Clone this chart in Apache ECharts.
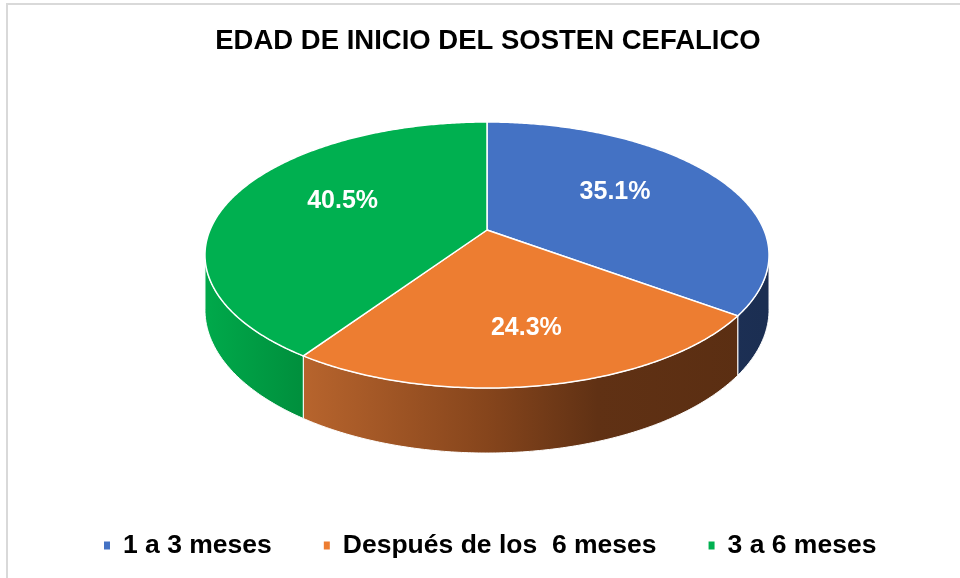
<!DOCTYPE html>
<html>
<head>
<meta charset="utf-8">
<script src="https://cdn.jsdelivr.net/npm/echarts@6/dist/echarts.min.js"></script>
<style>
  html, body { margin: 0; padding: 0; background: #fff; }
  #main { width: 960px; height: 578px; }
</style>
</head>
<body>
<div id="main"></div>
<script>
var categories = ['1 a 3 meses', 'Después de los  6 meses', '3 a 6 meses'];
var percents = [35.1, 24.3, 40.5];
var labelTexts = ['35.1%', '24.3%', '40.5%'];

var topColors = ['#4472C4', '#ED7D31', '#00B050'];
var FONT = '"Liberation Sans", Arial, sans-serif';

// perspective ellipse settings (3d pie look)
var cx = 487, cy = 230;   // pie centre on screen
var w = 277;              // half width at centre depth
var s = 128.3;            // vertical half size
var k = 0.188;            // perspective factor
var h = 52.8;             // thickness

var total = percents.reduce(function (a, b) { return a + b; }, 0);
var starts = [];
var acc = 0;
for (var i = 0; i < percents.length; i++) {
  starts.push(acc / total);
  acc += percents[i];
}

function proj(t, r, down) {
  var d = 1 + k * r * Math.cos(t);
  return [
    cx + r * w * Math.sin(t) / d,
    cy - r * s * Math.cos(t) / d + down * h / d
  ];
}

var x1 = cx - w, x2 = cx + w;
var wallFills = [
  new echarts.graphic.LinearGradient(x1, 0, x2, 0, [
    { offset: 0, color: '#2A4474' }, { offset: 1, color: '#1B2E52' }
  ], true),
  new echarts.graphic.LinearGradient(x1, 0, x2, 0, [
    { offset: 0.15, color: '#BA662E' },
    { offset: 0.5, color: '#86451C' },
    { offset: 0.7, color: '#603114' },
    { offset: 1, color: '#5A2E12' }
  ], true),
  new echarts.graphic.LinearGradient(x1, 0, x2, 0, [
    { offset: 0, color: '#00A84A' },
    { offset: 0.2, color: '#008A3A' },
    { offset: 1, color: '#006A2C' }
  ], true)
];

var visA = Math.acos(-k), visB = 2 * Math.PI - visA;

function renderSlice(params, api) {
  var i = params.seriesIndex;
  var share = api.value(0) / total;
  var t0 = starts[i] * 2 * Math.PI;
  var t1 = t0 + share * 2 * Math.PI;
  var children = [];

  var topPts = [proj(0, 0, 0)];
  var n = Math.max(2, Math.ceil((t1 - t0) / 0.01));
  for (var j = 0; j <= n; j++) {
    topPts.push(proj(t0 + (t1 - t0) * j / n, 1, 0));
  }

  var a = Math.max(t0, visA), b = Math.min(t1, visB);
  if (a < b) {
    var wall = [];
    var m = Math.max(2, Math.ceil((b - a) / 0.01));
    for (var q = 0; q <= m; q++) wall.push(proj(a + (b - a) * q / m, 1, 0));
    for (var q2 = m; q2 >= 0; q2--) wall.push(proj(a + (b - a) * q2 / m, 1, 1));
    children.push({
      type: 'polygon', z2: 1,
      shape: { points: wall },
      style: { fill: wallFills[i], stroke: '#fff', lineWidth: 1 }
    });
  }

  children.push({
    type: 'polygon', z2: 5,
    shape: { points: topPts },
    style: { fill: api.visual('color'), stroke: '#fff', lineWidth: 1.5 }
  });

  // label sits a bit further out on the near side
  var mid = (t0 + t1) / 2;
  var lp = proj(mid, 0.6 - 0.13 * Math.cos(mid), 0);
  children.push({
    type: 'text', z2: 10,
    x: lp[0], y: lp[1] - 8,
    style: {
      text: labelTexts[i], fill: '#fff',
      font: 'bold 25px ' + FONT,
      align: 'center', verticalAlign: 'middle'
    }
  });
  return { type: 'group', children: children };
}

var chart = echarts.init(document.getElementById('main'));

var series = categories.map(function (name, i) {
  return {
    name: name,
    type: 'custom',
    coordinateSystem: 'none',
    renderItem: renderSlice,
    itemStyle: { color: topColors[i] },
    data: [percents[i]],
    silent: true
  };
});

var option = {
  backgroundColor: '#fff',
  animation: false,
  title: {
    text: 'EDAD DE INICIO DEL SOSTEN CEFALICO',
    left: 488,
    textAlign: 'center',
    top: 27,
    padding: 0,
    textStyle: {
      fontFamily: FONT,
      fontWeight: 'bold',
      fontSize: 27.5,
      color: '#000'
    }
  },
  legend: {
    data: categories,
    left: 99,
    top: 527,
    icon: 'rect',
    itemWidth: 6,
    itemHeight: 8,
    itemGap: 52,
    textStyle: {
      fontFamily: FONT,
      fontWeight: 'bold',
      fontSize: 26.5,
      color: '#000',
      padding: [0, 0, 0, 8]
    }
  },
  graphic: [
    { type: 'line', shape: { x1: 6, y1: 4, x2: 960, y2: 4 }, style: { stroke: '#D9D9D9', lineWidth: 2 } },
    { type: 'line', shape: { x1: 7, y1: 4, x2: 7, y2: 578 }, style: { stroke: '#D9D9D9', lineWidth: 2 } }
  ],
  series: series
};

chart.setOption(option);
</script>
</body>
</html>
